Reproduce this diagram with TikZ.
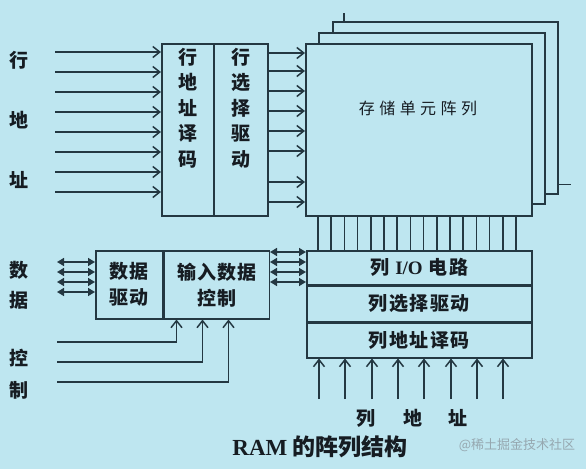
\documentclass[tikz,border=0pt]{standalone}
\usepackage{fontspec}
\setmainfont{Noto Sans CJK SC}
\newfontfamily\latinbf{Liberation Serif}
\newfontfamily\cjkwide{Noto Sans CJK SC}[LetterSpace=28]
\usetikzlibrary{positioning,calc,arrows.meta}
\definecolor{bgblue}{RGB}{190,230,240}
\definecolor{linecol}{RGB}{36,56,66}
\definecolor{ink}{RGB}{22,28,34}
\definecolor{markgray}{RGB}{150,168,176}

\begin{document}
\begin{tikzpicture}[x=1pt,y=-1pt]
  \tikzset{
    block/.style={draw=linecol, line width=1.5pt, fill=bgblue, anchor=north west, inner sep=0pt,
      align=center, text=ink, font=\bfseries\fontsize{19}{26}\selectfont},
    vtext/.style={align=center, inner sep=0pt, text=ink, font=\bfseries\fontsize{19}{25.5}\selectfont},
    tag/.style={text=ink, font=\bfseries\fontsize{19}{22}\selectfont},
    line/.style={draw=linecol, line width=1.5pt},
    addr/.style={line, -{Straight Barb[length=7pt,width=11pt]}},
    bus/.style={line, {Triangle[length=7pt,width=8pt]}-{Triangle[length=7pt,width=8pt]}}
  }

  \fill[bgblue] (0,0) rectangle (586,469);
  \useasboundingbox (0,0) rectangle (586,469);

  % row side
  \node[block, minimum width=52, minimum height=172] (rowdec) at (161,43) {};
  \node[block, minimum width=54, minimum height=172] (rowdrv) at (213,43) {};
  \node[vtext, below=5pt of rowdec.north] {行\\地\\址\\译\\码};
  \node[vtext, below=5pt of rowdrv.north] {行\\选\\择\\驱\\动};

  % the array, three layers
  \node[block, minimum width=225, minimum height=172] (arr3) at (332,21) {};
  \node[block, minimum width=226, minimum height=171] (arr2) at (318,32) {};
  \node[block, minimum width=226, minimum height=172] (array) at (305,43) {};
  \node[text=ink, font=\cjkwide\fontsize{16}{16}\selectfont] (arrtext) at (418,108) {存储单元阵列};
  \draw[line] (arr3.north west) ++(12,0) -- ++(0,-8);
  \draw[line] (arr3.south east) ++(0,-10) -- ++(12,0);

  % column side
  \node[block, minimum width=225, minimum height=34, font=\bfseries\fontsize{19}{26}\selectfont\addfontfeature{LetterSpace=8}] (iobox) at (306,250) {列 {\latinbf I/O} 电路};
  \node[block, minimum width=225, minimum height=35, below=0pt of iobox, font=\bfseries\fontsize{19}{26}\selectfont\addfontfeature{LetterSpace=8}] (colsel) {列选择驱动};
  \node[block, minimum width=225, minimum height=35, below=0pt of colsel, font=\bfseries\fontsize{19}{26}\selectfont\addfontfeature{LetterSpace=8}] (coldec) {列地址译码};

  % data side
  \node[block, minimum width=67, minimum height=68, font=\bfseries\fontsize{19}{26}\selectfont\addfontfeature{LetterSpace=6}] (datdrv) at (95,250) {数据\\驱动};
  \node[block, minimum width=105, minimum height=68, right=0pt of datdrv, font=\bfseries\fontsize{19}{26}\selectfont\addfontfeature{LetterSpace=6}] (datctl) {输入数据\\控制};

  % row address in, row select out
  \foreach \y [count=\i] in {52,72,92,112,132,152,172,192} {
    \coordinate (ra\i) at (55,\y);
    \draw[addr] (ra\i) -- (ra\i -| rowdec.west);
  }
  \foreach \y [count=\i] in {53,71,91,111,131,151,182,202} {
    \coordinate (rs\i) at (0,\y);
    \draw[addr] (rowdrv.east |- rs\i) -- (array.west |- rs\i);
  }

  % bit lines
  \foreach \i in {0,...,15} {
    \coordinate (bl\i) at (318+13.2*\i,0);
    \draw[line] (array.south -| bl\i) -- (iobox.north -| bl\i);
  }

  % column address
  \foreach \x [count=\i] in {319,345,372,398,424,451,477,503} {
    \coordinate (ca\i) at (\x,399);
    \draw[addr] (ca\i) -- (ca\i |- coldec.south);
  }

  % data buses
  \foreach \y [count=\i] in {262,272,282,292} {
    \coordinate (dl\i) at (57,\y);
    \draw[bus] (dl\i) -- (dl\i -| datdrv.west);
  }
  \foreach \y [count=\i] in {252,262,272,282} {
    \coordinate (dr\i) at (0,\y);
    \draw[bus] (datctl.east |- dr\i) -- (iobox.west |- dr\i);
  }

  % control
  \foreach \y/\dx [count=\i] in {342/13,362/39,382/65} {
    \coordinate (ct\i) at (57,\y);
    \draw[addr] (ct\i) -| ($(datctl.south west)+(\dx,0)$);
  }

  % labels
  \node[tag] (lrow1) at (19,60) {行};
  \node[tag] (lrow2) at (19,120) {地};
  \node[tag] (lrow3) at (19,180) {址};
  \node[tag] (ldat1) at (19,270) {数};
  \node[tag] (ldat2) at (19,300) {据};
  \node[tag] (lctl1) at (19,358) {控};
  \node[tag] (lctl2) at (19,390) {制};
  \node[tag] (lcol1) at (366,418) {列};
  \node[tag] (lcol2) at (413,418) {地};
  \node[tag] (lcol3) at (458,418) {址};

  \node[text=ink, font=\bfseries\fontsize{23}{23}\selectfont] (title) at (320,447) {{\latinbf RAM} 的阵列结构};
  \node[text=markgray, font=\fontsize{13}{13}\selectfont] (wmark) at (517,445) {@稀土掘金技术社区};
\end{tikzpicture}
\end{document}
